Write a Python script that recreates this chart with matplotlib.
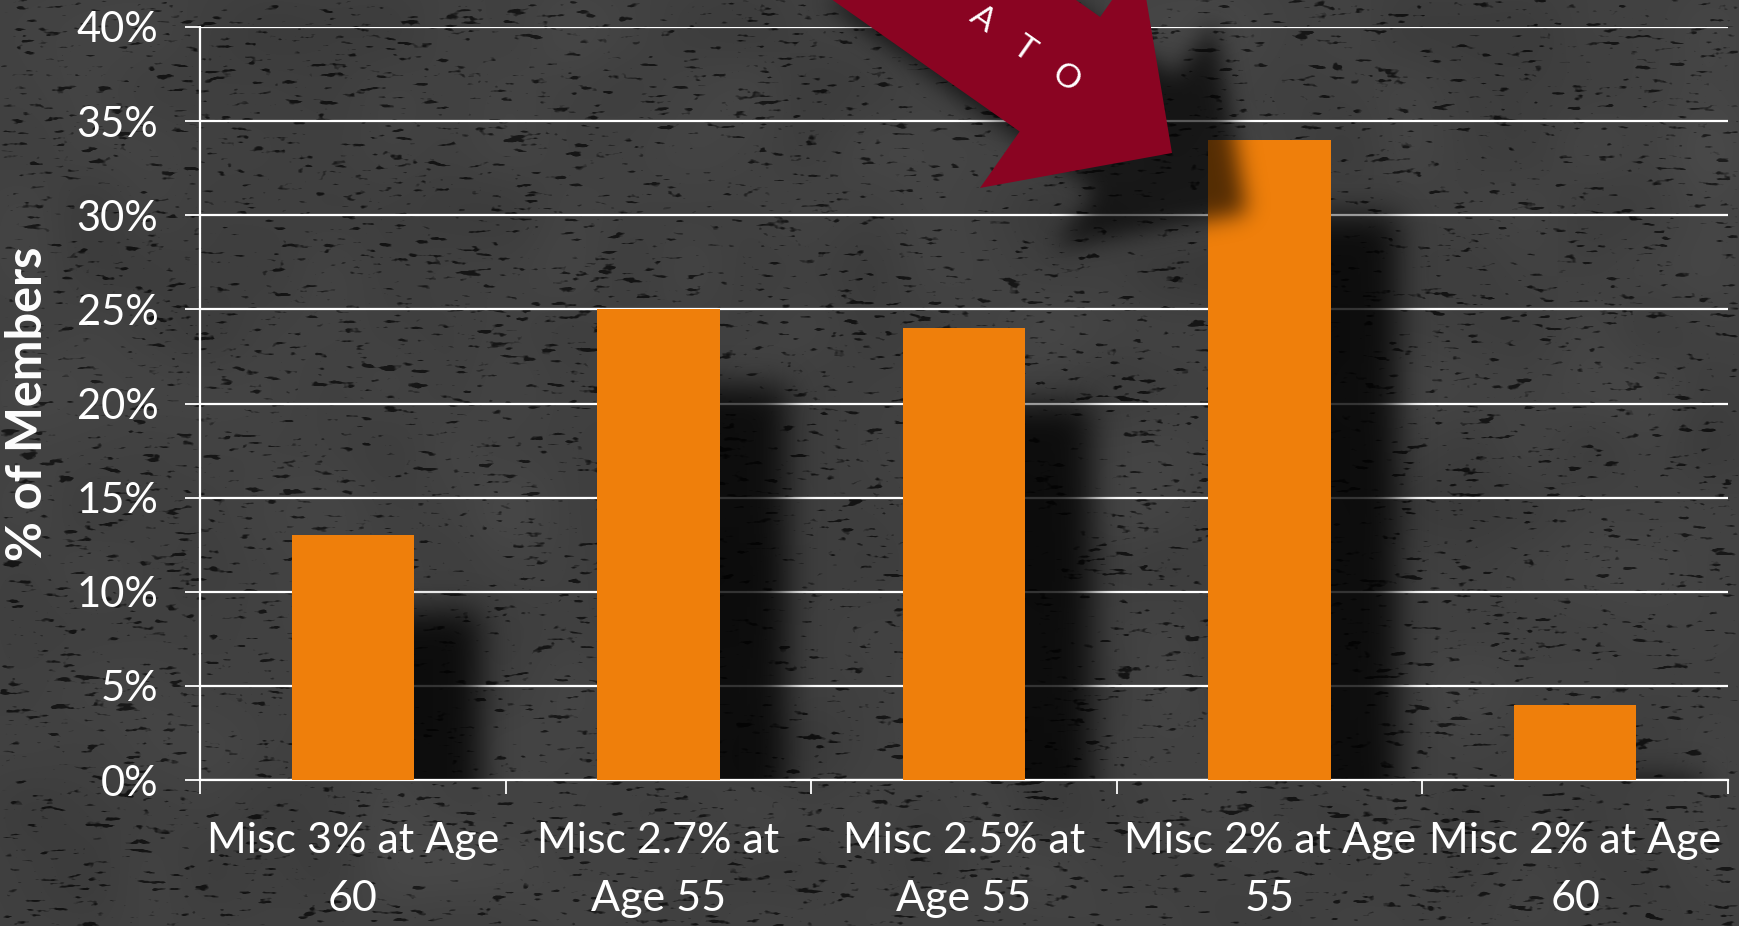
import numpy as np
import matplotlib
matplotlib.use("Agg")
import matplotlib.pyplot as plt
from matplotlib.path import Path
from matplotlib.patches import Polygon
from matplotlib.ticker import FixedLocator, FuncFormatter

# Chart data
categories = ["Misc 3% at Age\n60", "Misc 2.7% at\nAge 55", "Misc 2.5% at\nAge 55",
              "Misc 2% at Age\n55", "Misc 2% at Age\n60"]
members_pct = [13, 25, 24, 34, 4]
y_ticks = [0, 5, 10, 15, 20, 25, 30, 35, 40]
arrow_letters = ["A", "T", "O"]

W, H = 1739, 926
BAR_COLOR = "#EF7F0B"
ARROW_COLOR = "#8A0422"
FONT = ["Lato", "DejaVu Sans"]

plt.rcParams["font.family"] = FONT


def gauss_blur(a, sigma):
    r = int(3 * sigma)
    k = np.exp(-0.5 * (np.arange(-r, r + 1) / sigma) ** 2)
    k /= k.sum()
    a = np.apply_along_axis(lambda v: np.convolve(v, k, mode="same"), 1, a)
    a = np.apply_along_axis(lambda v: np.convolve(v, k, mode="same"), 0, a)
    return a


fig = plt.figure(figsize=(W / 100, H / 100), dpi=100)

# --- textured dark background -------------------------------------------
rng = np.random.default_rng(11)
grain = rng.normal(size=(H, W))
streak = np.ones(13) / 13
grain = np.apply_along_axis(lambda v: np.convolve(v, streak, mode="same"), 1, grain)
grain = gauss_blur(grain, 1.1)
grain /= grain.std()
specks = np.clip((-grain - 1.3) * 1.1, 0, 1)
mottle = rng.normal(size=(H // 60 + 1, W // 60 + 1))
mottle = np.kron(mottle, np.ones((60, 60)))[:H, :W]
mottle = gauss_blur(mottle, 25)
mottle /= mottle.std()
tex = 0.255 + 0.008 * mottle - 0.17 * specks
tex = np.clip(tex, 0, 1)

bg = fig.add_axes([0, 0, 1, 1], zorder=0)
bg.imshow(np.dstack([tex, tex, tex]), aspect="auto", interpolation="nearest")
bg.set_axis_off()

# --- main bar chart -----------------------------------------------------
ax_left, ax_right, ax_top, ax_bottom = 200, 1728, 27, 780
ax = fig.add_axes([ax_left / W, (H - ax_bottom) / H,
                   (ax_right - ax_left) / W, (ax_bottom - ax_top) / H], zorder=1)
ax.patch.set_visible(False)

x = np.arange(len(categories))
bar_w = 0.4
ax.set_xlim(-0.5, len(categories) - 0.5)
ax.set_ylim(y_ticks[0], y_ticks[-1])

ax.yaxis.grid(True, color="white", lw=1.6)
ax.set_axisbelow(True)
ax.bar(x, members_pct, width=bar_w, color=BAR_COLOR, zorder=3)

# soft drop shadows to the right of each bar
gw, gh = ax_right - ax_left, ax_bottom - ax_top
pad = 80
cols = -0.5 + (np.arange(gw) + 0.5) / gw * len(categories)
rows = y_ticks[-1] - (np.arange(-pad, gh + pad) + 0.5) / gh * y_ticks[-1]
XX, YY = np.meshgrid(cols, rows)
shadow = np.zeros_like(XX)
for xi, v in zip(x, members_pct):
    inside = (XX > xi) & (XX < xi + bar_w / 2 + 0.22) & (YY < v - 4) & (YY > -10)
    shadow[inside] = 1.0
shadow = gauss_blur(shadow, 16)[pad:pad + gh]
shadow_rgba = np.zeros((gh, gw, 4))
shadow_rgba[..., 3] = 0.8 * np.clip(shadow, 0, 1)
ax.imshow(shadow_rgba, extent=(-0.5, len(categories) - 0.5, y_ticks[0], y_ticks[-1]),
          aspect="auto", zorder=2)

for side in ["top", "right"]:
    ax.spines[side].set_visible(False)
for side in ["left", "bottom"]:
    ax.spines[side].set_color("white")
    ax.spines[side].set_linewidth(1.6)

ax.yaxis.set_major_locator(FixedLocator(y_ticks))
ax.yaxis.set_major_formatter(FuncFormatter(lambda v, _: f"{v:.0f}%"))
ax.tick_params(axis="y", colors="white", length=11, width=1.3, labelsize=30, pad=19)

ax.set_xticks(x)
ax.set_xticklabels(categories, linespacing=1.65)
ax.set_xticks(np.arange(len(categories) + 1) - 0.5, minor=True)
ax.tick_params(axis="x", which="major", length=0, colors="white", labelsize=31, pad=30)
ax.tick_params(axis="x", which="minor", length=10, width=1.3, color="white")

ax.set_ylabel("% of Members", color="white", fontsize=35, fontweight="bold")
ax.yaxis.set_label_coords(-(ax_left - 50) / gw, (ax_bottom - 404) / gh)

# --- callout arrow with shadow -------------------------------------------
ov = fig.add_axes([0, 0, 1, 1], zorder=3)
ov.set_xlim(0, W)
ov.set_ylim(H, 0)
ov.set_axis_off()

tip = np.array([1172.0, 153.0])
u = np.array([185.0, 130.0])
u /= np.linalg.norm(u)
n = np.array([-u[1], u[0]])
head_len, head_half, shaft_half, shaft_len = 137, 139, 70, 520
base = tip - head_len * u
tail = base - shaft_len * u
arrow_pts = np.array([tail + shaft_half * n, base + shaft_half * n, base + head_half * n,
                      tip, base - head_half * n, base - shaft_half * n,
                      tail - shaft_half * n])

# blurred shadow cast down and to the right
x0, x1, y0, y1 = 600, 1450, 0, 420
gx, gy = np.meshgrid(np.arange(x0, x1) + 0.5, np.arange(y0, y1) + 0.5)
cast = Path(arrow_pts + np.array([75, 60]))
amask = cast.contains_points(np.column_stack([gx.ravel(), gy.ravel()]))
amask = gauss_blur(amask.reshape(gx.shape).astype(float), 11)
arrow_shadow = np.zeros(gx.shape + (4,))
arrow_shadow[..., 3] = 0.65 * np.clip(amask, 0, 1)
ov.imshow(arrow_shadow, extent=(x0, x1, y1, y0), aspect="auto", zorder=1)

ov.add_patch(Polygon(arrow_pts, closed=True, facecolor=ARROW_COLOR, edgecolor="none", zorder=2))

angle = np.degrees(np.arctan2(u[1], u[0]))
for k, ch in enumerate(reversed(arrow_letters)):
    px, py = tip - (130 + 51 * k) * u
    ov.text(px, py, ch, color="white", fontsize=24,
            rotation=-angle, rotation_mode="anchor", ha="center", va="center", zorder=3)

fig.savefig("out.png", dpi=100)
